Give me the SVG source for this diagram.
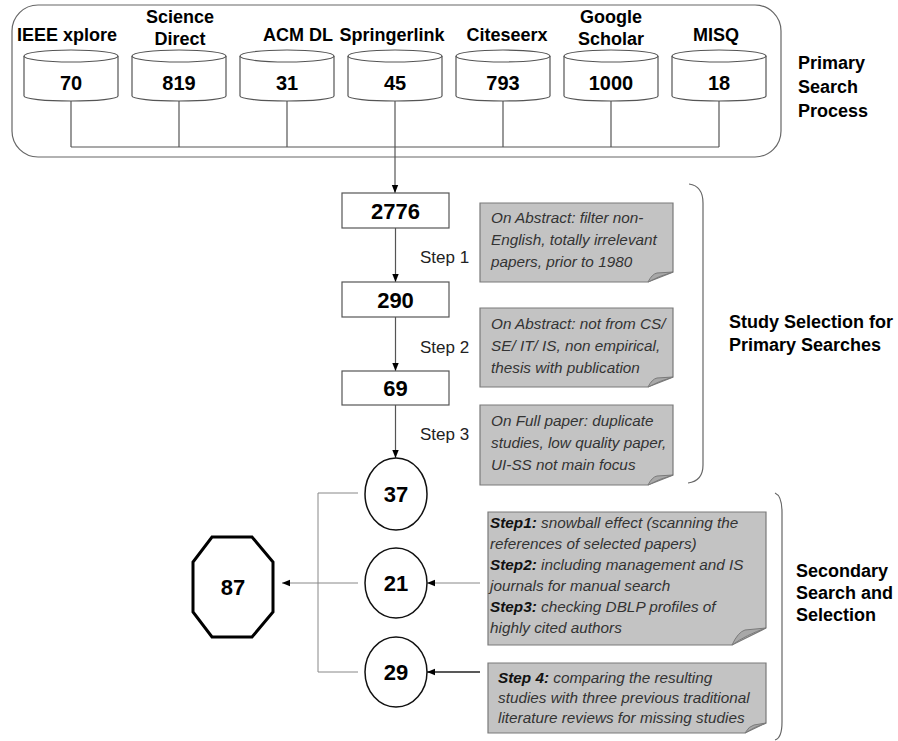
<svg xmlns="http://www.w3.org/2000/svg" width="898" height="741" viewBox="0 0 898 741">
<style>
.lbl{font-family:"Liberation Sans",Arial,sans-serif;font-weight:bold;font-size:18px;fill:#000}
.num{font-family:"Liberation Sans",Arial,sans-serif;font-weight:bold;font-size:20px;fill:#000;text-anchor:middle}
.big{font-family:"Liberation Sans",Arial,sans-serif;font-weight:bold;font-size:22px;fill:#000;text-anchor:middle}
.step{font-family:"Liberation Sans",Arial,sans-serif;font-size:17px;fill:#222}
.note{font-family:"Liberation Sans",Arial,sans-serif;font-style:italic;font-size:15.3px;fill:#333}
.nb{font-weight:bold;fill:#111}
.cyl{fill:#fff;stroke:#555;stroke-width:1.2}
.box{fill:#fff;stroke:#555;stroke-width:1.2}
.circ{fill:#fff;stroke:#111;stroke-width:1.5}
.nbox{fill:#c3c3c3;stroke:#7a7a7a;stroke-width:1.2}
.curl{fill:#a8a8a8;stroke:#7a7a7a;stroke-width:1}
.ln{fill:none;stroke:#555;stroke-width:1.2}
.lnl{fill:none;stroke:#888;stroke-width:1}
.brace{fill:none;stroke:#666;stroke-width:1.2}
</style>
<defs>
<marker id="ah" viewBox="0 0 10 10" refX="10" refY="5" markerWidth="8" markerHeight="8" markerUnits="userSpaceOnUse" orient="auto"><path d="M0,1 L10,5 L0,9 z" fill="#000"/></marker>
</defs>

<g id="primary-frame">
<rect x="12" y="5" width="769" height="152" rx="26" ry="26" fill="none" stroke="#666" stroke-width="1.2"/>
<text class="lbl" x="798" y="69">Primary</text>
<text class="lbl" x="798" y="93">Search</text>
<text class="lbl" x="798" y="117">Process</text>
</g>

<g id="connectors">
<path class="ln" d="M71,100 V147 M179,100 V147 M287,100 V147 M503,100 V147 M611,100 V147 M719,100 V147 M71,147 H719"/>
<path class="ln" d="M395,100 V193" marker-end="url(#ah)"/>
<path class="ln" d="M395.5,228 V282" marker-end="url(#ah)"/>
<path class="ln" d="M395.5,317 V371" marker-end="url(#ah)"/>
<path class="ln" d="M395.5,405 V458" marker-end="url(#ah)"/>
<path class="lnl" d="M358,493 H318 V672 H358 M358,583 H282" marker-end="url(#ah)"/>
<path class="lnl" d="M480,583 H427" marker-end="url(#ah)"/>
<path d="M480,672 H427" fill="none" stroke="#222" stroke-width="1.5" marker-end="url(#ah)"/>
</g>

<g id="db-ieee">
<path class="cyl" d="M24,56 V96 A47,5 0 0 0 118,96 V56"/>
<ellipse class="cyl" cx="71" cy="56" rx="47" ry="6"/>
<text class="lbl" x="67" y="41" text-anchor="middle">IEEE xplore</text>
<text class="num" x="71" y="89.5">70</text>
</g>
<g id="db-science">
<path class="cyl" d="M132,56 V96 A47,5 0 0 0 226,96 V56"/>
<ellipse class="cyl" cx="179" cy="56" rx="47" ry="6"/>
<text class="lbl" x="180" y="23" text-anchor="middle">Science</text>
<text class="lbl" x="180" y="45" text-anchor="middle">Direct</text>
<text class="num" x="179" y="89.5">819</text>
</g>
<g id="db-acm">
<path class="cyl" d="M240,56 V96 A47,5 0 0 0 334,96 V56"/>
<ellipse class="cyl" cx="287" cy="56" rx="47" ry="6"/>
<text class="lbl" x="298" y="41" text-anchor="middle">ACM DL</text>
<text class="num" x="287" y="89.5">31</text>
</g>
<g id="db-springer">
<path class="cyl" d="M348,56 V96 A47,5 0 0 0 442,96 V56"/>
<ellipse class="cyl" cx="395" cy="56" rx="47" ry="6"/>
<text class="lbl" x="392" y="41" text-anchor="middle">Springerlink</text>
<text class="num" x="395" y="89.5">45</text>
</g>
<g id="db-citeseerx">
<path class="cyl" d="M456,56 V96 A47,5 0 0 0 550,96 V56"/>
<ellipse class="cyl" cx="503" cy="56" rx="47" ry="6"/>
<text class="lbl" x="507" y="41" text-anchor="middle">Citeseerx</text>
<text class="num" x="503" y="89.5">793</text>
</g>
<g id="db-google">
<path class="cyl" d="M564,56 V96 A47,5 0 0 0 658,96 V56"/>
<ellipse class="cyl" cx="611" cy="56" rx="47" ry="6"/>
<text class="lbl" x="611" y="23" text-anchor="middle">Google</text>
<text class="lbl" x="611" y="45" text-anchor="middle">Scholar</text>
<text class="num" x="611" y="89.5">1000</text>
</g>
<g id="db-misq">
<path class="cyl" d="M672,56 V96 A47,5 0 0 0 766,96 V56"/>
<ellipse class="cyl" cx="719" cy="56" rx="47" ry="6"/>
<text class="lbl" x="716" y="41" text-anchor="middle">MISQ</text>
<text class="num" x="719" y="89.5">18</text>
</g>

<g id="n2776">
<rect class="box" x="342" y="193" width="107" height="35"/>
<text class="big" x="395.5" y="218.5">2776</text>
</g>
<g id="n290">
<rect class="box" x="342" y="282" width="107" height="35"/>
<text class="big" x="395.5" y="307.5">290</text>
</g>
<g id="n69">
<rect class="box" x="342" y="371" width="107" height="34"/>
<text class="big" x="395.5" y="396">69</text>
</g>

<g id="step-labels">
<text class="step" x="420" y="263">Step 1</text>
<text class="step" x="420" y="353">Step 2</text>
<text class="step" x="420" y="440">Step 3</text>
</g>

<g id="note1">
<path class="nbox" d="M480,203 H673 V272 L648,282 H480 Z"/>
<path class="curl" d="M648,282 Q652,274 657,273 L673,272 Q659,276 648,282 Z"/>
<text class="note" x="491" y="223">On Abstract: filter non-</text>
<text class="note" x="491" y="245">English, totally irrelevant</text>
<text class="note" x="491" y="267">papers, prior to 1980</text>
</g>
<g id="note2">
<path class="nbox" d="M480,308 H673 V377 L648,387 H480 Z"/>
<path class="curl" d="M648,387 Q652,379 657,378 L673,377 Q659,381 648,387 Z"/>
<text class="note" x="491" y="329">On Abstract: not from CS/</text>
<text class="note" x="491" y="351">SE/ IT/ IS, non empirical,</text>
<text class="note" x="491" y="373">thesis with publication</text>
</g>
<g id="note3">
<path class="nbox" d="M480,405 H673 V475 L648,485 H480 Z"/>
<path class="curl" d="M648,485 Q652,477 657,476 L673,475 Q659,479 648,485 Z"/>
<text class="note" x="491" y="426">On Full paper: duplicate</text>
<text class="note" x="491" y="448">studies, low quality paper,</text>
<text class="note" x="491" y="470">UI-SS not main focus</text>
</g>

<g id="braces">
<path class="brace" d="M689,184 Q703,186 703,203 V465 Q703,481 688,483"/>
<path class="brace" d="M775,493 Q782,496 782,512 V722 Q782,738 775,740"/>
</g>
<g id="label-study">
<text class="lbl" x="729" y="328">Study Selection for</text>
<text class="lbl" x="729" y="351">Primary Searches</text>
</g>
<g id="label-secondary">
<text class="lbl" x="796" y="577">Secondary</text>
<text class="lbl" x="796" y="599">Search and</text>
<text class="lbl" x="796" y="621">Selection</text>
</g>

<g id="c37">
<ellipse class="circ" cx="396" cy="494" rx="31" ry="36"/>
<text class="big" x="396" y="502">37</text>
</g>
<g id="c21">
<ellipse class="circ" cx="396" cy="583" rx="31" ry="35"/>
<text class="big" x="396" y="591">21</text>
</g>
<g id="c29">
<ellipse class="circ" cx="396" cy="672" rx="31" ry="35"/>
<text class="big" x="396" y="680">29</text>
</g>
<g id="n87">
<polygon points="212,537 252,537 273,562 273,612 252,637 212,637 193,612 193,562" fill="#fff" stroke="#000" stroke-width="3"/>
<text class="big" x="233" y="595">87</text>
</g>

<g id="note4">
<path class="nbox" d="M488,512 H766 V628 L732,645 H488 Z"/>
<path class="curl" d="M732,645 Q738,632 745,630 L766,628 Q746,635 732,645 Z"/>
<text class="note" x="490" y="528"><tspan class="nb">Step1:</tspan> snowball effect (scanning the</text>
<text class="note" x="490" y="549">references of selected papers)</text>
<text class="note" x="490" y="570"><tspan class="nb">Step2:</tspan> including management and IS</text>
<text class="note" x="490" y="591">journals for manual search</text>
<text class="note" x="490" y="612"><tspan class="nb">Step3:</tspan> checking DBLP profiles of</text>
<text class="note" x="490" y="633">highly cited authors</text>
</g>
<g id="note5">
<path class="nbox" d="M488,663 H766 V723 L745,733 H488 Z"/>
<path class="curl" d="M745,733 Q749,726 754,725 L766,723 Q754,727 745,733 Z"/>
<text class="note" x="498" y="683"><tspan class="nb">Step 4:</tspan> comparing the resulting</text>
<text class="note" x="498" y="703">studies with three previous traditional</text>
<text class="note" x="498" y="723">literature reviews for missing studies</text>
</g>
</svg>
